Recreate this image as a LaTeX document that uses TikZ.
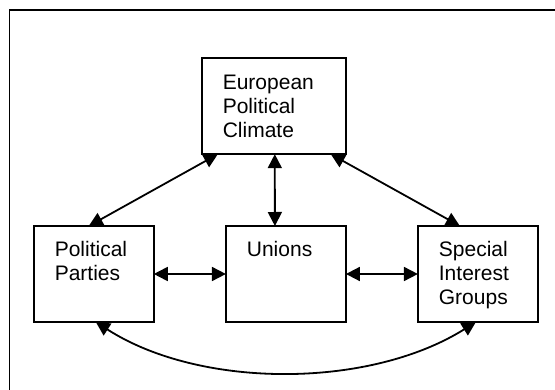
\documentclass[tikz,border=0pt]{standalone}
\usepackage{fontspec}
\setmainfont{Liberation Sans}
\usetikzlibrary{arrows.meta}

% Box text: first baseline 31pt below the top edge, 21pt left inset
\newcommand{\boxlines}[2]{%
  \parbox[c][96pt][t]{#1}{\fontsize{21pt}{24pt}\selectfont
    \raggedright\leftskip=21pt\rule{0pt}{31pt}#2}}

\tikzset{
  unit/.style={draw, line width=1.8pt, inner sep=0pt, outer sep=0pt,
    rectangle, minimum height=96pt},
  link/.style={line width=1.8pt,
    {Triangle[length=14pt,width=14pt]}-{Triangle[length=14pt,width=14pt]}},
}

\begin{document}
\begin{tikzpicture}[x=1pt, y=-1pt]
  \clip (0,0) rectangle (555,390);
  \fill[white] (0,0) rectangle (555,390);

  % outer frame, running off the right and bottom edges
  \draw[line width=1.8pt] (9.5,410) -- (9.5,10) -- (575,10);

  \node[unit, minimum width=144pt] (epc) at (273.8,106.2)
    {\boxlines{144pt}{European\\Political\\Climate}};
  \node[unit, minimum width=120pt] (pp) at (93.8,274)
    {\boxlines{120pt}{Political\\Parties}};
  \node[unit, minimum width=120pt] (un) at (285.9,274)
    {\boxlines{120pt}{Unions}};
  \node[unit, minimum width=120pt] (sig) at (477.9,274)
    {\boxlines{120pt}{Special\\Interest\\Groups}};

  \draw[link] (pp) -- (un);
  \draw[link] (un) -- (sig);
  \draw[link] ([xshift=73pt]epc.south west) -- ([xshift=49pt]un.north west);
  \draw[link] ([xshift=16pt]epc.south west) -- ([xshift=55pt]pp.north west);
  \draw[link] ([xshift=129pt]epc.south west) -- ([xshift=42pt]sig.north west);
  \draw[link] ([xshift=62pt]pp.south west)
    .. controls (200,389) and (369,389) .. ([xshift=58pt]sig.south west);
\end{tikzpicture}
\end{document}
